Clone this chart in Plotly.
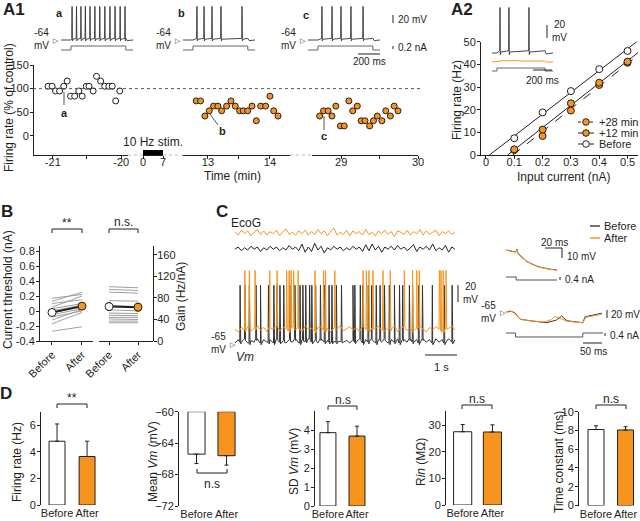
import numpy as np
import plotly.graph_objects as go

W, H = 640, 521
ORANGE = '#F7941D'
DARK = '#231F20'
GREY = '#A0A0A0'
FONT = 'Arial, Liberation Sans, sans-serif'

# ---------------- A1: firing rate (% of control) vs time (min) ----------------
a1_time_before = [-21.07, -21.01, -20.96, -20.90, -20.84, -20.79, -20.74, -20.68, -20.62, -20.57,
                  -20.51, -20.47, -20.41, -20.36, -20.30, -20.24, -20.18, -20.13, -20.08, -20.02]
a1_rate_before = [105, 105, 95, 95, 105, 116, 84, 84, 95, 84, 105, 105, 95, 126, 116, 105, 105, 105, 74, 95]
a1_time_12 = [12.81, 12.88, 12.95, 13.02, 13.09, 13.16, 13.22, 13.30, 13.37, 13.44,
              13.51, 13.57, 13.64, 13.71, 13.78, 13.85, 13.93, 14.00, 14.06, 14.13]
a1_rate_12 = [74, 74, 42, 53, 63, 63, 53, 63, 74, 63, 53, 53, 53, 63, 32, 63, 63, 84, 53, 42]
a1_time_28 = [28.72, 28.77, 28.83, 28.88, 28.93, 28.99, 29.04, 29.10, 29.15, 29.21,
              29.26, 29.31, 29.37, 29.42, 29.47, 29.53, 29.58, 29.64, 29.69, 29.74]
a1_rate_28 = [42, 53, 53, 42, 63, 21, 21, 74, 53, 63, 32, 32, 21, 32, 42, 32, 53, 42, 63, 53]
stim_window = [0, 7]
control_level = 100

# example traces a, b, c (spike times in ms, 0.2 nA step)
spikes_a = [100, 140, 180, 220, 262, 306, 350, 396, 442, 488, 534, 578]
spikes_b = [126, 190, 262, 343, 533]
spikes_c = [126, 217, 298, 388, 497]
step_a1 = [90, 585, 650]      # on, off, end (ms)
step_amp_a1 = 0.2

# ---------------- A2: f-I curves ----------------
a2_current = [0.1, 0.2, 0.3, 0.4, 0.5]
a2_before = [7.4, 18.8, 28.2, 37.9, 45.9]
a2_before_err = [0.8, 0.7, 1.2, 0.9, 0.9]
a2_12min = [2.5, 11.2, 22.8, 31.9, 41.2]
a2_12min_err = [0.6, 0.8, 0.9, 0.8, 0.7]
a2_28min = [2.2, 8.4, 19.6, 30.9, 40.7]
a2_28min_err = [0.6, 0.7, 0.8, 0.7, 0.6]
a2_spikes = [84, 178, 388]
a2_step = [52, 556, 640]
a2_after_t = [0, 50, 60, 100, 150, 200, 250, 300, 350, 400, 450, 500, 550, 570, 600, 640]
a2_after_v = [-64, -64, -63, -62.3, -62, -62.5, -61.8, -62.4, -62.6, -62.2, -62.5, -62.3, -62.6, -64, -64.2, -64]
a2_legend = ['+28 min', '+12 min', 'Before']

# ---------------- B: threshold and gain ----------------
thr_before = [0.17, 0.13, 0.10, 0.05, 0.03, 0.00, -0.02, -0.05, -0.08, -0.12, -0.17, -0.27]
thr_after = [0.22, 0.25, 0.15, 0.20, 0.10, 0.08, 0.05, 0.03, 0.00, 0.02, -0.02, -0.21]
thr_mean = [-0.02, 0.065]
thr_sem = [0.035, 0.035]
gain_before = [101, 96, 91, 75, 66, 58, 52, 48, 44, 41, 37, 34]
gain_after = [99, 94, 89, 74, 64, 56, 51, 47, 44, 40, 37, 34]
gain_mean = [64, 63]
gain_sem = [7, 7]

# ---------------- C: EcoG and Vm (0.1 s samples) ----------------
c_time = [i * 0.1 for i in range(70)]
ecog_after = [2, -3, 4, -1, 3, -4, 1, 5, -2, 3,
              -3, 2, -1, 4, -4, 2, 6, -2, 1, -3,
              3, -1, 4, -3, 2, -2, 5, -1, 3, -4,
              2, 7, -3, 1, -2, 4, -4, 3, -1, 2,
              -3, 5, -2, 1, -4, 3, -1, 4, -2, 2,
              -5, 3, 1, -2, 4, -3, 2, -1, 5, -3,
              3, -2, 1, 4, -4, 2, -1, 3, -2, 1]
ecog_before = [-1, 2, -3, 1, -2, 3, -1, 2, -4, 1,
               -2, 3, -1, 2, -3, 1, -2, 4, -1, 2,
               -3, 6, -5, 2, -4, 7, -2, 3, -6, 1,
               -2, 3, -1, 2, -3, 1, -2, 3, -1, 2,
               -4, 5, -3, 6, -2, 3, -5, 2, -1, 3,
               -2, 4, -1, 2, -3, 1, 5, -4, 2, -1,
               3, -2, 6, -3, 1, -2, 4, -5, 2, -1]
vm_base_before = [0, 4, 1, 5, 0, 3, 1, 5, 0, 4,
                  1, 4, 0, 5, 1, 3, 0, 4, 1, 5,
                  0, 4, 2, 5, 1, 4, 0, 5, 1, 3,
                  1, 2, 1, 2, 1, 3, 0, 4, 1, 5,
                  0, 4, 1, 5, 0, 4, 1, 5, 0, 4,
                  1, 5, 0, 4, 1, 5, 1, 4, 0, 5,
                  1, 4, 0, 5, 1, 4, 0, 5, 1, 4]
vm_base_after = [1, -2, 3, 0, 4, -1, 2, 5, 0, 3,
                 -2, 4, 1, 5, -1, 3, 2, -1, 4, 0,
                 3, -2, 5, 1, 2, -1, 3, 4, 0, 2,
                 -2, 3, 1, 5, -1, 2, 4, 0, 3, -2,
                 5, 1, -1, 3, 2, 4, 0, -1, 3, 1,
                 5, -2, 2, 4, 0, 3, -1, 2, 5, 1,
                 -2, 3, 0, 4, 1, -1, 3, 2, 5, 0]
c_spikes_before = [0.16, 0.31, 0.45, 0.66, 0.80, 1.05, 1.22, 1.32, 1.41, 1.53, 1.72, 1.88, 2.04, 2.13,
                   2.22, 2.34, 2.41, 2.53, 2.68, 2.81, 2.95, 3.04, 3.18, 3.34, 3.70, 3.76, 3.93, 4.01,
                   4.18, 4.29, 4.43, 4.55, 4.69, 4.84, 5.00, 5.16, 5.26, 5.47, 5.57, 5.76, 5.88, 6.19,
                   6.56, 6.81]
c_spikes_after = [0.31, 0.45, 0.63, 1.09, 1.32, 1.62, 1.70, 1.76, 1.84, 1.98, 2.51, 2.78, 2.84, 3.13,
                  4.02, 4.12, 4.20, 4.33, 4.64, 4.87, 5.31, 5.57, 5.70, 5.78, 6.41, 6.46, 6.53, 6.62]
c_legend = ['Before', 'After']
# membrane charging (ms, mV) and hyperpolarising step responses
tau_t = [0, 4, 8, 11, 12, 13, 14, 17, 20, 24, 28, 32, 36, 40, 44, 48, 52, 56, 60]
tau_before = [-65, -65.5, -66.3, -67, -66, -64, -68.5, -71, -73.5, -76, -78, -79.8, -81, -82.2, -83, -83.7, -84.2, -84.6, -85]
tau_after = [-65.2, -65.6, -66.5, -67.2, -66.3, -64.3, -68.8, -71.3, -73.8, -76.3, -78.2, -80, -81.3, -82.4, -83.2, -83.9, -84.4, -84.8, -85.2]
tau_step = [12, 60]
hyp_t_before = [0, 15, 24, 37, 63, 107, 133, 146, 160, 202, 208, 230, 252]
hyp_v_before = [-65, -63.5, -68, -83, -86.8, -91.8, -85, -75, -86.8, -91.8, -76.8, -72.5, -68]
hyp_t_after = [0, 10, 20, 37, 63, 100, 120, 128, 140, 160, 202, 210, 235, 252]
hyp_v_after = [-65, -62, -66, -83, -87, -90, -84, -76, -80, -88, -92, -78, -74, -70]
hyp_step = [25, 202, 255]
step_amp_c = -0.4

# ---------------- D: summary bars (Before, After) ----------------
d_rate = [4.8, 3.65]
d_rate_err = [1.3, 1.15]
d_vm = [-65.4, -65.6]
d_vm_err = [1.2, 1.2]
d_sd = [3.86, 3.68]
d_sd_err = [0.58, 0.52]
d_rin = [27.5, 27.4]
d_rin_err = [2.7, 2.7]
d_tau = [8.1, 8.05]
d_tau_err = [0.4, 0.35]
groups = ['Before', 'After']

fig = go.Figure()
count = {'x': 0, 'y': 0}
shapes, notes = [], []


def X(p):
    return p / W


def Y(p):
    return 1 - p / H


AX = dict(visible=True, showline=True, linecolor=DARK, linewidth=1, ticks='outside', ticklen=3,
          tickwidth=1, tickcolor=DARK, showgrid=False, zeroline=False, automargin=False,
          ticklabelstandoff=-1, tickfont=dict(size=11, color=DARK, family=FONT))
AXB = dict(AX, ticklabelstandoff=-6)   # time / current axes: labels sit close to the line
HID = dict(visible=False, showgrid=False, zeroline=False)


def axis(kind, p0, p1, rng, pos, style, **kw):
    count[kind] += 1
    n = count[kind]
    key = f'{kind}axis' + ('' if n == 1 else str(n))
    if kind == 'x':
        dom, position = [X(p0), X(p1)], Y(pos)
    else:
        dom, position = [Y(p1), Y(p0)], X(pos)
    spec = dict(style, domain=dom, range=rng, anchor='free', position=position)
    spec.update(kw)
    fig.update_layout({key: spec})
    return kind + ('' if n == 1 else str(n))


def line(xa, ya, x, y, color=DARK, width=1, dash=None):
    fig.add_trace(go.Scatter(x=x, y=y, xaxis=xa, yaxis=ya, mode='lines', showlegend=False,
                             line=dict(color=color, width=width, dash=dash), hoverinfo='skip'))


def seg(x0, y0, x1, y1, color=DARK, width=1, dash=None):
    shapes.append(dict(type='line', xref='paper', yref='paper', x0=X(x0), y0=Y(y0), x1=X(x1), y1=Y(y1),
                       line=dict(color=color, width=width, dash=dash)))


def dot(x, y, r, fill):
    shapes.append(dict(type='circle', xref='paper', yref='paper', x0=X(x - r), x1=X(x + r),
                       y0=Y(y + r), y1=Y(y - r), fillcolor=fill, line=dict(color=DARK, width=1)))


def txt(x, y, s, size=11, anchor='center', bold=False, angle=0, color=DARK):
    notes.append(dict(x=X(x), y=Y(y), xref='paper', yref='paper', text=f'<b>{s}</b>' if bold else s,
                      showarrow=False, xanchor=anchor, yanchor='middle', textangle=angle,
                      font=dict(size=size, color=color, family=FONT)))


def bracket(x0, x1, y, leg):
    seg(x0, y + leg, x0, y)
    seg(x0, y, x1, y)
    seg(x1, y, x1, y + leg)


def spike_train(spikes, on, off, end, rest, plateau, peak):
    t, v = [0, on], [rest, rest]
    for s in spikes:
        t += [s - 3, s, s + 3, s + 10]
        v += [plateau, peak, plateau - 6, plateau - 2]
    t += [off, off + 12, end]
    v += [plateau, rest - 1.5, rest]
    return t, v


def step(on, off, end, amp):
    return [0, on, on, off, off, end], [0, 0, amp, amp, 0, 0]


def vm_trace(times, base, spikes, rest, peak, dt=0.1):
    pts = [(t, rest + b) for t, b in zip(times, base)]
    for s in spikes:
        b = rest + base[min(int(round(s / dt)), len(base) - 1)]
        pts += [(s - 0.012, b), (s, peak), (s + 0.02, b - 2)]
    pts.sort()
    return [p[0] for p in pts], [p[1] for p in pts]


# ================= A1 =================
x1 = axis('x', 33, 128, [-21.29, -19.9], 155, AXB, tickvals=[-21, -20.5, -20], ticktext=['-21', '', '-20'])
y1 = axis('y', 65, 155, [-40.5, 150], 33, AX, tickvals=[0, 50, 100, 150])
x2 = axis('x', 143, 163, [0, 7], 155, AXB, tickvals=[0, 7])
x3 = axis('x', 183, 290, [12.597, 14.323], 155, AXB, tickvals=[13, 13.5, 14], ticktext=['13', '', '14'])
x4 = axis('x', 312, 418, [28.62, 30.0], 155, AXB, tickvals=[29, 29.5, 30], ticktext=['29', '', '30'])
for a, b in [(128, 143), (163, 183), (290, 312)]:
    seg(a, 155, b, 155, color='#BBBBBB', dash='dot')
shapes.append(dict(type='line', xref='paper', yref=y1, x0=X(33), x1=X(420), y0=control_level,
                   y1=control_level, line=dict(color='#555555', width=1, dash='dot')))
shapes.append(dict(type='rect', xref=x2, yref=y1, x0=stim_window[0], x1=stim_window[1], y0=-40.5, y1=-30,
                   fillcolor='black', line=dict(width=0)))
fig.add_trace(go.Scatter(x=a1_time_before, y=a1_rate_before, xaxis=x1, yaxis=y1, mode='markers', showlegend=False,
                         marker=dict(size=6, color='white', line=dict(color=DARK, width=1))))
for tt, rr, xa in [(a1_time_12, a1_rate_12, x3), (a1_time_28, a1_rate_28, x4)]:
    fig.add_trace(go.Scatter(x=tt, y=rr, xaxis=xa, yaxis=y1, mode='markers', showlegend=False,
                             marker=dict(size=6, color=ORANGE, line=dict(color=DARK, width=1))))

for x0, spikes, lab, lab_y in [(61, spikes_a, 'a', 13), (183, spikes_b, 'b', 13), (308, spikes_c, 'c', 15)]:
    xa = axis('x', x0, x0 + 72, [0, 650], 44, HID)
    yv = axis('y', 4, 44, [-74, 26], x0, HID)
    yi = axis('y', 43, 53, [-0.15, 0.35], x0, HID)
    t, v = spike_train(spikes, *step_a1, -64, -60, 20)
    line(xa, yv, t, v, color='#333333', width=0.9)
    t, c = step(*step_a1, step_amp_a1)
    line(xa, yi, t, c, color='#555555', width=0.9)
    txt(x0 - 2, lab_y, lab, 11, bold=True)
    txt(x0 - 10, 39, '-64<br>mV', 10, anchor='right')
    txt(x0 - 5, 40, '▷', 7)

seg(393, 15, 393, 23)
txt(396, 19, '20 mV', 10, anchor='left')
seg(393, 46, 393, 49)
txt(396, 47, '0.2 nA', 10, anchor='left')
seg(358, 54, 380, 54)
txt(369, 61, '200 ms', 10)
txt(1, 9, 'A1', 17, anchor='left', bold=True)
txt(9, 108, 'Firing rate (% of control)', 12, angle=-90)
txt(153, 142, '10 Hz stim.', 12)
txt(232, 176, 'Time (min)', 12)
seg(64, 92, 64, 105, color='#555555')
txt(64, 113, 'a', 11, bold=True)
seg(210, 114, 218, 125, color='#555555')
txt(222, 131, 'b', 11, bold=True)
seg(324, 116, 324, 130, color='#555555')
txt(324, 136, 'c', 11, bold=True)

# ================= A2 =================
xa2 = axis('x', 480, 638, [-0.021, 0.537], 155, AXB, tickvals=[0, 0.1, 0.2, 0.3, 0.4, 0.5],
           ticktext=['0', '0.1', '0.2', '0.3', '0.4', '0.5'])
ya2 = axis('y', 41.7, 155, [0, 50], 480, AX, tickvals=[0, 10, 20, 30, 40, 50])
for vals, dash, in [(a2_before, None), (a2_12min, None), (a2_28min, 'dash')]:
    k, b = np.polyfit(a2_current, vals, 1)
    xs = [-b / k, 0.56]
    line(xa2, ya2, xs, [k * xv + b for xv in xs], color=DARK, width=1, dash=dash)
for vals, err, fill in [(a2_28min, a2_28min_err, ORANGE), (a2_12min, a2_12min_err, ORANGE),
                        (a2_before, a2_before_err, 'white')]:
    fig.add_trace(go.Scatter(x=a2_current, y=vals, xaxis=xa2, yaxis=ya2, mode='markers', showlegend=False,
                             error_y=dict(type='data', array=err, color=DARK, thickness=1, width=2),
                             marker=dict(size=7, color=fill, line=dict(color=DARK, width=1))))
# legend (drawn by hand to keep the compact row spacing)
for i, (name, fill, dash) in enumerate(zip(a2_legend, [ORANGE, ORANGE, 'white'], ['dot', None, None])):
    yy = 122 + 11 * i
    seg(578, yy, 594, yy, dash=dash)
    dot(586, yy, 3.3, fill)
    txt(597, yy, name, 11, anchor='left')
xi = axis('x', 492, 553, [0, 640], 56, HID)
yk = axis('y', 5, 56, [-68.6, 9.8], 492, HID)
yo = axis('y', 56, 66, [-70.2, -54.8], 492, HID)
yc = axis('y', 66, 74, [-0.2, 0.333], 492, HID)
t, v = spike_train(a2_spikes, *a2_step, -64, -60.5, 6)
line(xi, yk, t, v, color='#333333', width=0.9)
line(xi, yo, a2_after_t, a2_after_v, color=ORANGE, width=1)
t, c = step(*a2_step, 0.2)
line(xi, yc, t, c, color='#555555', width=0.9)
seg(547, 25, 547, 38)
txt(550, 31, '20<br>mV', 10, anchor='left')
seg(533, 70, 552, 70)
txt(542, 80, '200 ms', 10)
txt(462, 9, 'A2', 17, bold=True)
txt(457, 100, 'Firing rate (Hz)', 12, angle=-90)
txt(563, 177, 'Input current (nA)', 12)

# ================= B =================
xb1 = axis('x', 39, 93, [-0.433, 1.367], 341, AX, tickvals=[0, 1], ticktext=groups, tickangle=-45)
yb1 = axis('y', 246, 341, [-0.4, 0.867], 39, AX, tickvals=[-0.4, -0.2, 0, 0.2, 0.4, 0.6, 0.8],
           ticktext=['-0.4', '-0.2', '0', '0.2', '0.4', '0.6', '0.8'])
xb2 = axis('x', 99, 153, [-0.345, 1.517], 341, AX, tickvals=[0, 1], ticktext=groups, tickangle=-45)
yb2 = axis('y', 246, 341, [0, 176.7], 153, AX, side='right', tickvals=[0, 40, 80, 120, 160],
           ticklabelstandoff=-2)
for b0, a0 in zip(thr_before, thr_after):
    line(xb1, yb1, [0, 1], [b0, a0], color=GREY, width=1)
for b0, a0 in zip(gain_before, gain_after):
    line(xb2, yb2, [0, 1], [b0, a0], color=GREY, width=1)
for xa, ya, m, e in [(xb1, yb1, thr_mean, thr_sem), (xb2, yb2, gain_mean, gain_sem)]:
    fig.add_trace(go.Scatter(x=[0, 1], y=m, xaxis=xa, yaxis=ya, mode='lines+markers', showlegend=False,
                             line=dict(color=DARK, width=2),
                             error_y=dict(type='data', array=e, color=DARK, thickness=1, width=2),
                             marker=dict(size=8, color=['white', ORANGE], line=dict(color=DARK, width=1))))
txt(7, 212, 'B', 17, bold=True)
txt(8, 290, 'Current threshold (nA)', 12, angle=-90)
txt(181, 297, 'Gain (Hz/nA)', 12, angle=-90)
bracket(52, 82, 229, 4)
txt(67, 223, '**', 12)
bracket(109, 138, 229, 4)
txt(123, 222, 'n.s.', 12)

# ================= C =================
xc = axis('x', 235, 455, [0, 6.9], 350, HID)
y_ea = axis('y', 226, 240, [-10, 10], 235, HID)
y_eb = axis('y', 241, 256, [-10, 10], 235, HID)
y_vb = axis('y', 270, 350, [-73.2, 20.9], 235, HID)
y_va = axis('y', 262, 337, [-73.2, 15], 235, HID)
line(xc, y_ea, c_time, ecog_after, color=ORANGE, width=1)
line(xc, y_eb, c_time, ecog_before, color='#222222', width=1)
t, v = vm_trace(c_time, vm_base_after, c_spikes_after, -65, 5)
line(xc, y_va, t, v, color=ORANGE, width=1)
t, v = vm_trace(c_time, vm_base_before, c_spikes_before, -65, 3)
line(xc, y_vb, t, v, color='#333333', width=1)
for i, (name, col) in enumerate(zip(c_legend, ['#444444', ORANGE])):
    yy = 226 + 12 * i
    seg(590, yy, 600, yy, color=col, width=1.5)
    txt(602, yy, name, 11, anchor='left')
txt(222, 212, 'C', 17, bold=True)
txt(246, 223, 'EcoG', 12)
txt(228, 343, '-65<br>mV', 10, anchor='right')
txt(233, 344, '▷', 7)
txt(245, 357, '<i>Vm</i>', 12)
seg(458, 285, 458, 302)
txt(461, 293, '20<br>mV', 10, anchor='left')
seg(425, 355, 457, 355)
txt(441, 367, '1 s', 11)

xd = axis('x', 506, 557, [0, 60], 272, HID)
yd = axis('y', 247, 272, [-87, -62], 506, HID)
ydc = axis('y', 275, 282, [-0.667, 0.267], 506, HID)
line(xd, yd, tau_t, tau_before, color='#333333', width=1)
line(xd, yd, tau_t, tau_after, color=ORANGE, width=1)
line(xd, ydc, [0, tau_step[0], tau_step[0], tau_step[1]], [0, 0, step_amp_c, step_amp_c], color='#555555')
seg(545, 248, 562, 248)
seg(562, 248, 562, 258)
txt(554, 242, '20 ms', 10)
txt(565, 256, '10 mV', 10, anchor='left')
seg(560, 277, 560, 280)
txt(563, 279, '0.4 nA', 10, anchor='left')

xe = axis('x', 506, 603, [0, 255], 326, HID)
ye = axis('y', 303, 326, [-100, -42.5], 506, HID)
yec = axis('y', 331, 339, [-0.6, 0.2], 506, HID)
line(xe, ye, hyp_t_before, hyp_v_before, color='#333333', width=1)
line(xe, ye, hyp_t_after, hyp_v_after, color=ORANGE, width=1)
t, c = step(*hyp_step, step_amp_c)
line(xe, yec, t, c, color='#555555')
txt(498, 312, '-65<br>mV', 10, anchor='right')
txt(503, 312, '▷', 7)
seg(607, 310, 607, 318)
txt(609, 314, '20 mV', 10, anchor='left')
seg(605, 333, 605, 336)
txt(608, 335, '0.4 nA', 10, anchor='left')
seg(583, 343, 602, 343)
txt(593, 351, '50 ms', 10)

# ================= D =================
panels = [
    ('Firing rate (Hz)', d_rate, d_rate_err, (40, 100), [-0.567, 1.43], (412, 505), [0, 7.0], [0, 2, 4, 6], 0.53, 17),
    ('Mean <i>Vm</i> (mV)', d_vm, d_vm_err, (178, 240), [-0.617, 1.45], (411.7, 506), [-72, -60],
     [-72, -68, -64, -60], 0.57, 153),
    ('SD <i>Vm</i> (mV)', d_sd, d_sd_err, (314, 375), [-0.48, 1.62], (411, 506), [0, 5], [0, 1, 2, 3, 4], 0.55, 294),
    ('R<i>in</i> (MΩ)', d_rin, d_rin_err, (445, 510), [-0.593, 1.59], (410.7, 505), [0, 35.4], [0, 10, 20, 30], 0.61, 421),
    ('Time constant (ms)', d_tau, d_tau_err, (578, 640), [-0.61, 1.49], (411.7, 505.5), [0, 10],
     [0, 2, 4, 6, 8, 10], 0.54, 559),
]
DX = dict(visible=True, showline=False, ticks='', showgrid=False, zeroline=False, automargin=False,
          tickangle=0, tickfont=dict(size=11, color=DARK, family=FONT))
for title, vals, err, (px0, px1), xr, (py0, py1), yr, yt, bw, tx in panels:
    xa = axis('x', px0, px1, xr, py1, DX, tickvals=[0, 1], ticktext=groups)
    ya = axis('y', py0, py1, yr, px0, AX, tickvals=yt)
    if yr[1] <= 0:
        top = yr[1]
        fig.add_trace(go.Bar(x=[0, 1], y=[v - top for v in vals], base=top, xaxis=xa, yaxis=ya, width=bw,
                             showlegend=False, marker=dict(color=['white', ORANGE], line=dict(color=DARK, width=1))))
        fig.add_trace(go.Scatter(x=[0, 1], y=vals, xaxis=xa, yaxis=ya, mode='markers', showlegend=False,
                                 marker=dict(size=1, color='rgba(0,0,0,0)'),
                                 error_y=dict(type='data', symmetric=False, array=[0, 0], arrayminus=err,
                                              color=DARK, thickness=1, width=2)))
    else:
        fig.add_trace(go.Bar(x=[0, 1], y=vals, xaxis=xa, yaxis=ya, width=bw, showlegend=False,
                             marker=dict(color=['white', ORANGE], line=dict(color=DARK, width=1)),
                             error_y=dict(type='data', symmetric=False, array=err, arrayminus=[0, 0],
                                          color=DARK, thickness=1, width=2)))
    txt(tx, 462, title, 12, angle=-90)

txt(6, 393, 'D', 17, bold=True)
bracket(57, 87, 404, 4)
txt(72, 398, '**', 12)
bracket(197, 227, 473, -4)
txt(212, 484, 'n.s', 12)
bracket(328, 357, 406, 4)
txt(343, 400, 'n.s', 12)
bracket(462, 492, 405, 4)
txt(477, 399, 'n.s', 12)
bracket(596, 626, 405, 4)
txt(611, 399, 'n.s', 12)

fig.update_layout(
    width=W, height=H, margin=dict(l=0, r=0, t=0, b=0, autoexpand=False),
    paper_bgcolor='white', plot_bgcolor='rgba(0,0,0,0)',
    font=dict(family=FONT, color=DARK, size=11),
    shapes=shapes, annotations=notes, showlegend=False,
)

# the page body has a default 8px margin; remove it so the 640x521 figure fills the window
fig.write_html('out.html', config={'displayModeBar': False},
               post_script="document.body.style.margin='0px';")
